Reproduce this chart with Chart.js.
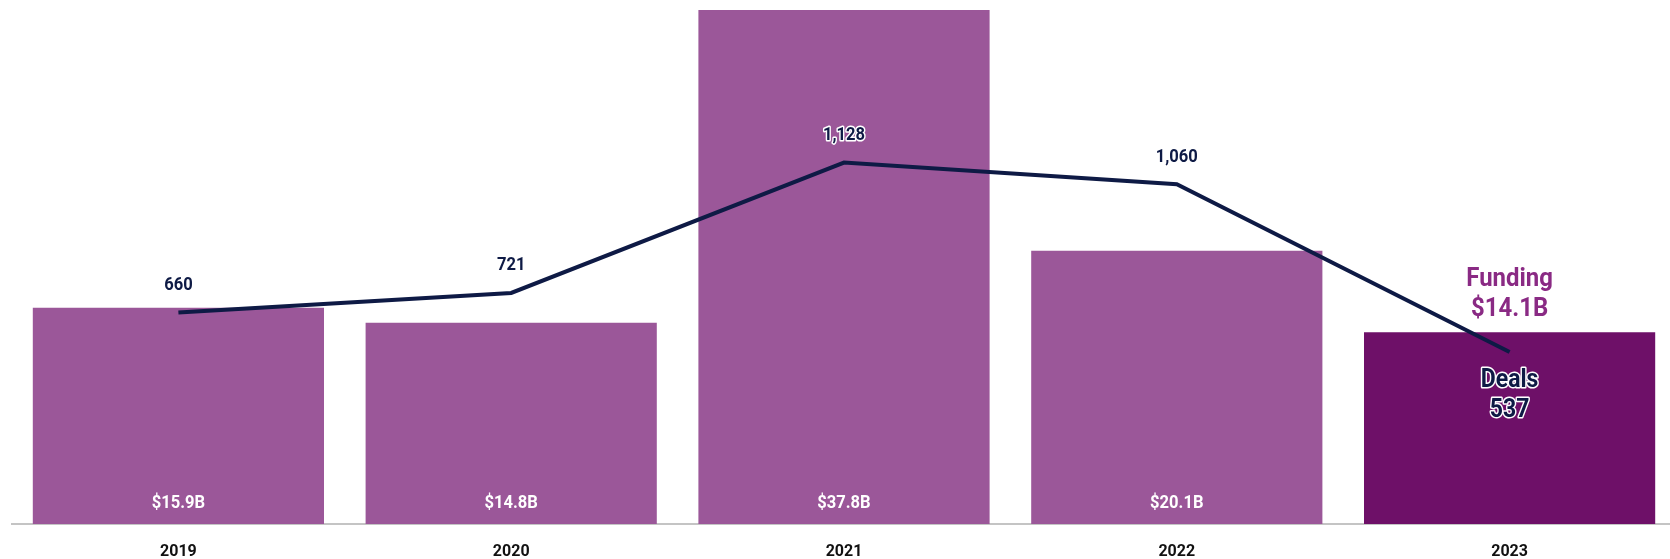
<!DOCTYPE html>
<html>
<head>
<meta charset="utf-8">
<script src="https://cdn.jsdelivr.net/npm/chart.js@4/dist/chart.umd.min.js"></script>
<style>
  html, body { margin: 0; padding: 0; background: #ffffff; overflow: hidden; }
  #wrap { position: relative; width: 1680px; height: 559px; }
</style>
</head>
<body>
<div id="wrap"><canvas id="c" width="1680" height="559"></canvas></div>
<script>
const years = ['2019', '2020', '2021', '2022', '2023'];
const fundingB = [15.9, 14.8, 37.8, 20.1, 14.1];
const deals = [660, 721, 1128, 1060, 537];
const fundingLabels = ['$15.9B', '$14.8B', '$37.8B', '$20.1B', '$14.1B'];
const dealLabels = ['660', '721', '1,128', '1,060', '537'];

const barColors = ['#9b5799', '#9b5799', '#9b5799', '#9b5799', '#6e1068'];
const navy = '#0e1a45';
const FONT = '"Roboto", "Liberation Sans", sans-serif';

function haloText(ctx, text, x, y, fill, size, halo) {
  ctx.save();
  ctx.translate(x, y);
  ctx.scale(0.92, 1);
  ctx.font = 'bold ' + size + 'px ' + FONT;
  ctx.textAlign = 'center';
  ctx.textBaseline = 'middle';
  if (halo) {
    ctx.lineJoin = 'round';
    ctx.strokeStyle = halo;
    ctx.lineWidth = 3;
    ctx.strokeText(text, 0, 0);
  }
  ctx.fillStyle = fill;
  ctx.fillText(text, 0, 0);
  ctx.restore();
}

const labelPlugin = {
  id: 'labels',
  afterDatasetsDraw(chart) {
    const ctx = chart.ctx;
    const bars = chart.getDatasetMeta(1).data;
    const pts = chart.getDatasetMeta(0).data;
    ctx.save();
    const last = years.length - 1;
    bars.forEach((b, i) => {
      if (i === last) {
        haloText(ctx, 'Funding', b.x, b.y - 53, '#8a2a84', 26, 'rgba(255,255,255,0.9)');
        haloText(ctx, fundingLabels[i], b.x, b.y - 23, '#8a2a84', 26, 'rgba(255,255,255,0.9)');
      } else {
        haloText(ctx, fundingLabels[i], b.x, b.base - 21, '#ffffff', 18, null);
      }
    });
    pts.forEach((p, i) => {
      if (i === last) {
        haloText(ctx, 'Deals', p.x, p.y + 29, navy, 25, '#ffffff');
        haloText(ctx, dealLabels[i], p.x, p.y + 59, navy, 25, '#ffffff');
      } else {
        haloText(ctx, dealLabels[i], p.x, p.y - 27, navy, 18, '#ffffff');
      }
    });
    ctx.restore();
  }
};

new Chart(document.getElementById('c'), {
  type: 'bar',
  data: {
    labels: years,
    datasets: [
      {
        type: 'line',
        label: 'Deals',
        data: deals,
        yAxisID: 'yDeals',
        borderColor: navy,
        borderWidth: 4,
        pointRadius: 0,
        tension: 0,
        order: 0
      },
      {
        type: 'bar',
        label: 'Funding',
        data: fundingB,
        yAxisID: 'yFunding',
        backgroundColor: barColors,
        borderWidth: 0,
        categoryPercentage: 1.0,
        barPercentage: 0.875,
        order: 1
      }
    ]
  },
  options: {
    responsive: false,
    animation: false,
    devicePixelRatio: 1,
    layout: { padding: { left: 12, right: 4, top: 10, bottom: 0 } },
    plugins: {
      legend: { display: false },
      tooltip: { enabled: false }
    },
    scales: {
      x: {
        offset: true,
        grid: { display: false, drawTicks: false },
        border: { display: true, color: '#c4c4c4', width: 2 },
        ticks: {
          color: '#111111',
          padding: 18,
          font: { family: FONT, size: 16, weight: 'bold' }
        },
        afterFit(scale) { scale.height = 35; }
      },
      yFunding: {
        display: false,
        min: 0,
        max: 37.8
      },
      yDeals: {
        display: false,
        min: 0,
        max: 1604
      }
    }
  },
  plugins: [labelPlugin]
});
</script>
</body>
</html>
